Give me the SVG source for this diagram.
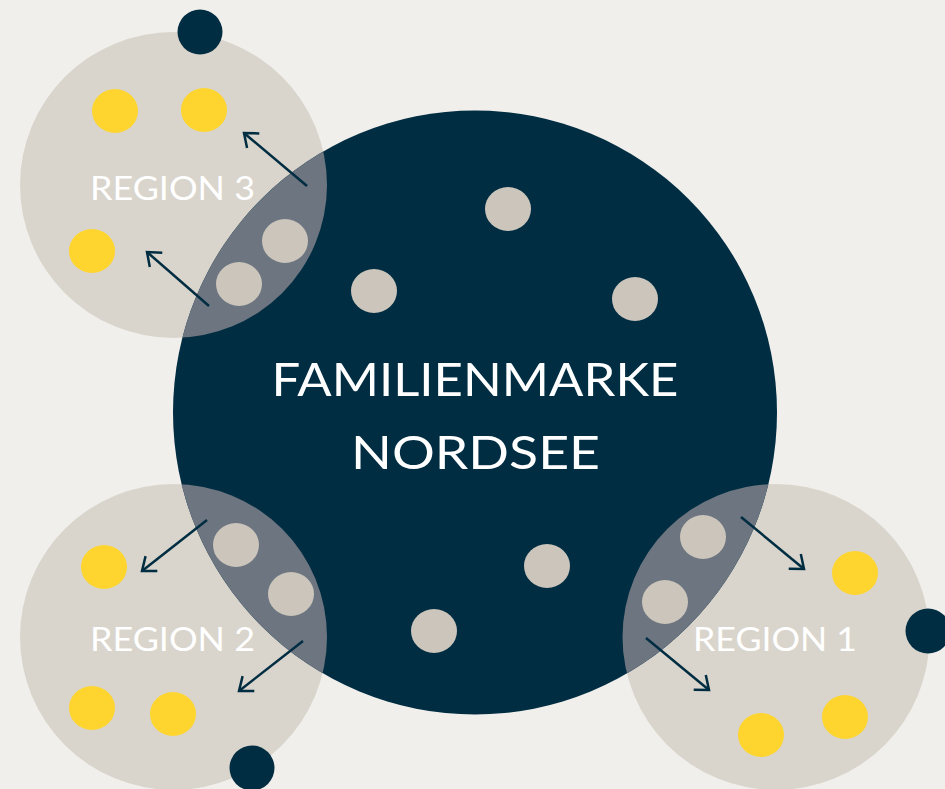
<svg xmlns="http://www.w3.org/2000/svg" width="945" height="789" viewBox="0 0 945 789">
<style>
.bg{fill:#f0efeb}
.main{fill:#002d42}
.region{fill:#d9d5cc}
.overlap{fill:#6c7580}
.beige{fill:#cbc5bb}
.yellow{fill:#fed52e}
.dark{fill:#002d42}
.lbl{font-family:Lato,"Open Sans","Liberation Sans",sans-serif;font-weight:400;fill:#ffffff;text-anchor:middle}
.arrow{stroke:#002d42;stroke-width:2.5;fill:none;marker-end:url(#head)}
</style>
<defs>
<clipPath id="mainClip"><circle cx="475" cy="412.5" r="302"/></clipPath>
<marker id="head" markerUnits="userSpaceOnUse" markerWidth="30" markerHeight="30" refX="0" refY="0" viewBox="-15 -15 30 30" orient="auto" overflow="visible">
<path d="M-12,-9.5 L0,0 L-12,9.5" fill="none" stroke="#002d42" stroke-width="2.5"/>
</marker>
</defs>
<rect class="bg" x="0" y="0" width="945" height="789"/>
<g id="region-discs">
<ellipse class="region" cx="173.5" cy="185" rx="153.5" ry="153"/>
<ellipse class="region" cx="173.5" cy="637" rx="153.5" ry="153"/>
<ellipse class="region" cx="776" cy="637" rx="153.5" ry="153"/>
</g>
<g id="familienmarke">
<circle class="main" cx="475" cy="412.5" r="302"/>
<g clip-path="url(#mainClip)">
<ellipse class="overlap" cx="173.5" cy="185" rx="153.5" ry="153"/>
<ellipse class="overlap" cx="173.5" cy="637" rx="153.5" ry="153"/>
<ellipse class="overlap" cx="776" cy="637" rx="153.5" ry="153"/>
</g>
<ellipse class="beige" cx="508" cy="209" rx="23" ry="22"/>
<ellipse class="beige" cx="374" cy="291" rx="23" ry="22"/>
<ellipse class="beige" cx="635" cy="299" rx="23" ry="22"/>
<ellipse class="beige" cx="547" cy="566" rx="23" ry="22"/>
<ellipse class="beige" cx="434" cy="631" rx="23" ry="22"/>
<text class="lbl" x="475" y="396" font-size="47" textLength="407" lengthAdjust="spacingAndGlyphs">FAMILIENMARKE</text>
<text class="lbl" x="475.5" y="469" font-size="47" textLength="249" lengthAdjust="spacingAndGlyphs">NORDSEE</text>
</g>
<g id="region3">
<ellipse class="beige" cx="285" cy="241" rx="23" ry="22"/>
<ellipse class="beige" cx="239" cy="284" rx="23" ry="22"/>
<ellipse class="yellow" cx="115" cy="111" rx="23" ry="22"/>
<ellipse class="yellow" cx="204" cy="110" rx="23" ry="22"/>
<ellipse class="yellow" cx="92" cy="251" rx="23" ry="22"/>
<text class="lbl" x="172.5" y="199.5" font-size="32" textLength="165" lengthAdjust="spacingAndGlyphs">REGION 3</text>
<circle class="dark" cx="200" cy="32" r="22.5"/>
</g>
<g id="region2">
<ellipse class="beige" cx="236" cy="545" rx="23" ry="22"/>
<ellipse class="beige" cx="291" cy="594" rx="23" ry="22"/>
<ellipse class="yellow" cx="104" cy="567" rx="23" ry="22"/>
<ellipse class="yellow" cx="92" cy="708" rx="23" ry="22"/>
<ellipse class="yellow" cx="173" cy="714" rx="23" ry="22"/>
<text class="lbl" x="172.5" y="651" font-size="32" textLength="165" lengthAdjust="spacingAndGlyphs">REGION 2</text>
<circle class="dark" cx="252" cy="768" r="22.5"/>
</g>
<g id="region1">
<ellipse class="beige" cx="703" cy="537" rx="23" ry="22"/>
<ellipse class="beige" cx="665" cy="602" rx="23" ry="22"/>
<ellipse class="yellow" cx="855" cy="573" rx="23" ry="22"/>
<ellipse class="yellow" cx="845" cy="717" rx="23" ry="22"/>
<ellipse class="yellow" cx="761" cy="735" rx="23" ry="22"/>
<text class="lbl" x="775" y="651" font-size="32" textLength="164" lengthAdjust="spacingAndGlyphs">REGION 1</text>
<circle class="dark" cx="928" cy="631" r="22.5"/>
</g>
<g id="connectors">
<line class="arrow" x1="307" y1="186" x2="244" y2="133"/>
<line class="arrow" x1="209" y1="306" x2="147" y2="252"/>
<line class="arrow" x1="207" y1="520" x2="142" y2="571"/>
<line class="arrow" x1="303" y1="641" x2="239" y2="691"/>
<line class="arrow" x1="741" y1="517" x2="804" y2="569"/>
<line class="arrow" x1="646" y1="638" x2="709" y2="690"/>
</g>
</svg>
